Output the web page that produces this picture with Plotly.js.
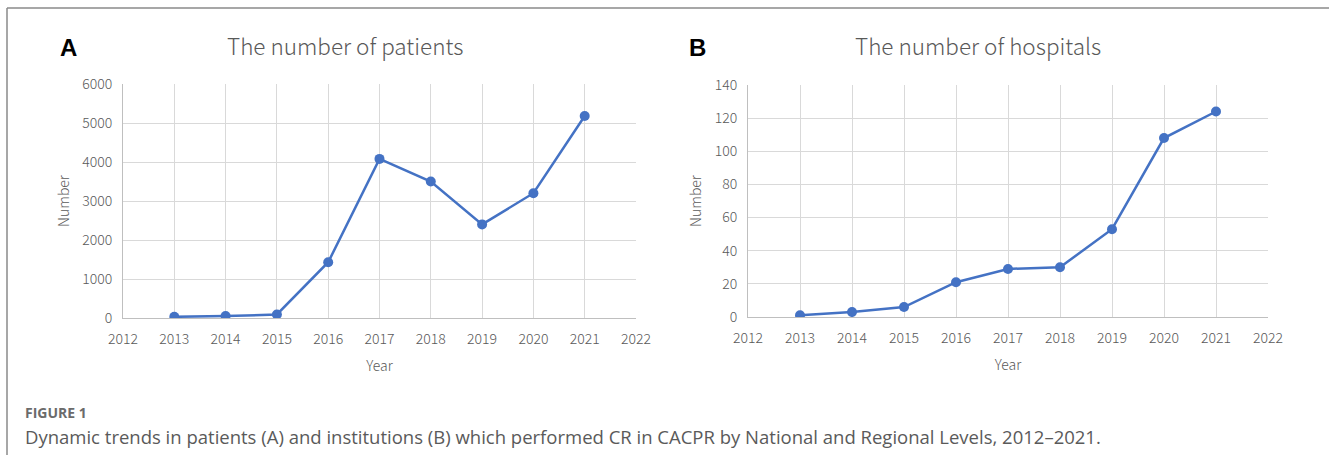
<!DOCTYPE html>
<html>
<head>
<meta charset="utf-8">
<script src="https://cdn.plot.ly/plotly-3.0.1.min.js"></script>
<style>
html,body{margin:0;padding:0;background:#fff;}
#chart{width:1329px;height:455px;}
</style>
</head>
<body>
<div id="chart"></div>
<script>
const years = [2013, 2014, 2015, 2016, 2017, 2018, 2019, 2020, 2021];
const patients = [30, 50, 90, 1430, 4080, 3500, 2400, 3200, 5180];
const hospitals = [1, 3, 6, 21, 29, 30, 53, 108, 124];
const xTicks = [2012, 2013, 2014, 2015, 2016, 2017, 2018, 2019, 2020, 2021, 2022];
const titleA = "The number of patients";
const titleB = "The number of hospitals";
const xTitle = "Year";
const yTitle = "Number";
const captionHead = "FIGURE 1";
const captionText = "Dynamic trends in patients (A) and institutions (B) which performed CR in CACPR by National and Regional Levels, 2012\u20132021.";

const W = 1329, H = 455;
const px = v => v / W;
const py = v => 1 - v / H;

const lineColor = "#4472C4";
const tickFont = {family: "Noto Sans CJK SC, Liberation Sans, sans-serif", size: 14, color: "#595959", weight: 300};
const titleFont = {family: "Noto Sans CJK SC, Liberation Sans, sans-serif", size: 22.5, color: "#595959", weight: 300};

function trace(y, xa, ya) {
  return {
    x: years, y: y, xaxis: xa, yaxis: ya, type: "scatter", mode: "lines+markers",
    line: {color: lineColor, width: 2.5},
    marker: {color: lineColor, size: 10},
    hoverinfo: "skip", showlegend: false
  };
}

function xaxis(d0, d1, anchor) {
  return {
    domain: [px(d0), px(d1)], anchor: anchor, range: [2012, 2022],
    tickvals: xTicks, ticktext: xTicks.map(String),
    showgrid: true, gridcolor: "#d9d9d9", gridwidth: 1,
    showline: true, linecolor: "#bfbfbf", linewidth: 1, mirror: false,
    zeroline: false, ticks: "", tickfont: tickFont,
    ticklabelstandoff: 8,
    title: {text: xTitle, font: tickFont, standoff: 14},
    fixedrange: true
  };
}
function yaxis(top, bot, anchor, max, dt) {
  return {
    domain: [py(bot), py(top)], anchor: anchor, range: [0, max], dtick: dt,
    showgrid: true, gridcolor: "#d9d9d9", gridwidth: 1,
    showline: true, linecolor: "#bfbfbf", linewidth: 1,
    zeroline: false, ticks: "", tickfont: tickFont,
    ticklabelstandoff: 7,
    title: {text: yTitle, font: tickFont, standoff: 9},
    fixedrange: true
  };
}

const data = [trace(patients, "x", "y"), trace(hospitals, "x2", "y2")];

const layout = {
  width: W, height: H,
  margin: {l: 0, r: 0, t: 0, b: 0},
  paper_bgcolor: "#fff", plot_bgcolor: "#fff",
  xaxis: xaxis(123, 636, "y"),
  yaxis: yaxis(84, 318, "x", 6000, 1000),
  xaxis2: xaxis(748, 1268, "y2"),
  yaxis2: yaxis(85, 317, "x2", 140, 20),
  shapes: [
    {type: "line", xref: "paper", yref: "paper", x0: px(7), x1: 1, y0: py(8), y1: py(8), line: {color: "#8a8a8a", width: 1.5}},
    {type: "line", xref: "paper", yref: "paper", x0: px(7), x1: px(7), y0: py(8), y1: 0, line: {color: "#8a8a8a", width: 1.5}}
  ],
  annotations: [
    {text: titleA, xref: "paper", yref: "paper", x: px(345), y: py(45), xanchor: "center", yanchor: "middle", showarrow: false, font: titleFont},
    {text: titleB, xref: "paper", yref: "paper", x: px(978), y: py(45), xanchor: "center", yanchor: "middle", showarrow: false, font: titleFont},
    {text: "<b>A</b>", xref: "paper", yref: "paper", x: px(68), y: py(48), xanchor: "center", yanchor: "middle", showarrow: false, font: {family: "Liberation Sans, Arial, sans-serif", size: 24, color: "#000"}},
    {text: "<b>B</b>", xref: "paper", yref: "paper", x: px(697), y: py(48), xanchor: "center", yanchor: "middle", showarrow: false, font: {family: "Liberation Sans, Arial, sans-serif", size: 24, color: "#000"}},
    {text: "<b>" + captionHead + "</b>", xref: "paper", yref: "paper", x: px(23), y: py(412), xanchor: "left", yanchor: "middle", showarrow: false, font: {family: "Open Sans, sans-serif", size: 14, color: "#6b6b6b"}},
    {text: captionText, xref: "paper", yref: "paper", x: px(23), y: py(436), xanchor: "left", yanchor: "middle", showarrow: false, font: {family: "Open Sans, sans-serif", size: 18.5, color: "#5a5a5a"}}
  ]
};

Plotly.newPlot("chart", data, layout, {staticPlot: true, displayModeBar: false});
</script>
</body>
</html>
